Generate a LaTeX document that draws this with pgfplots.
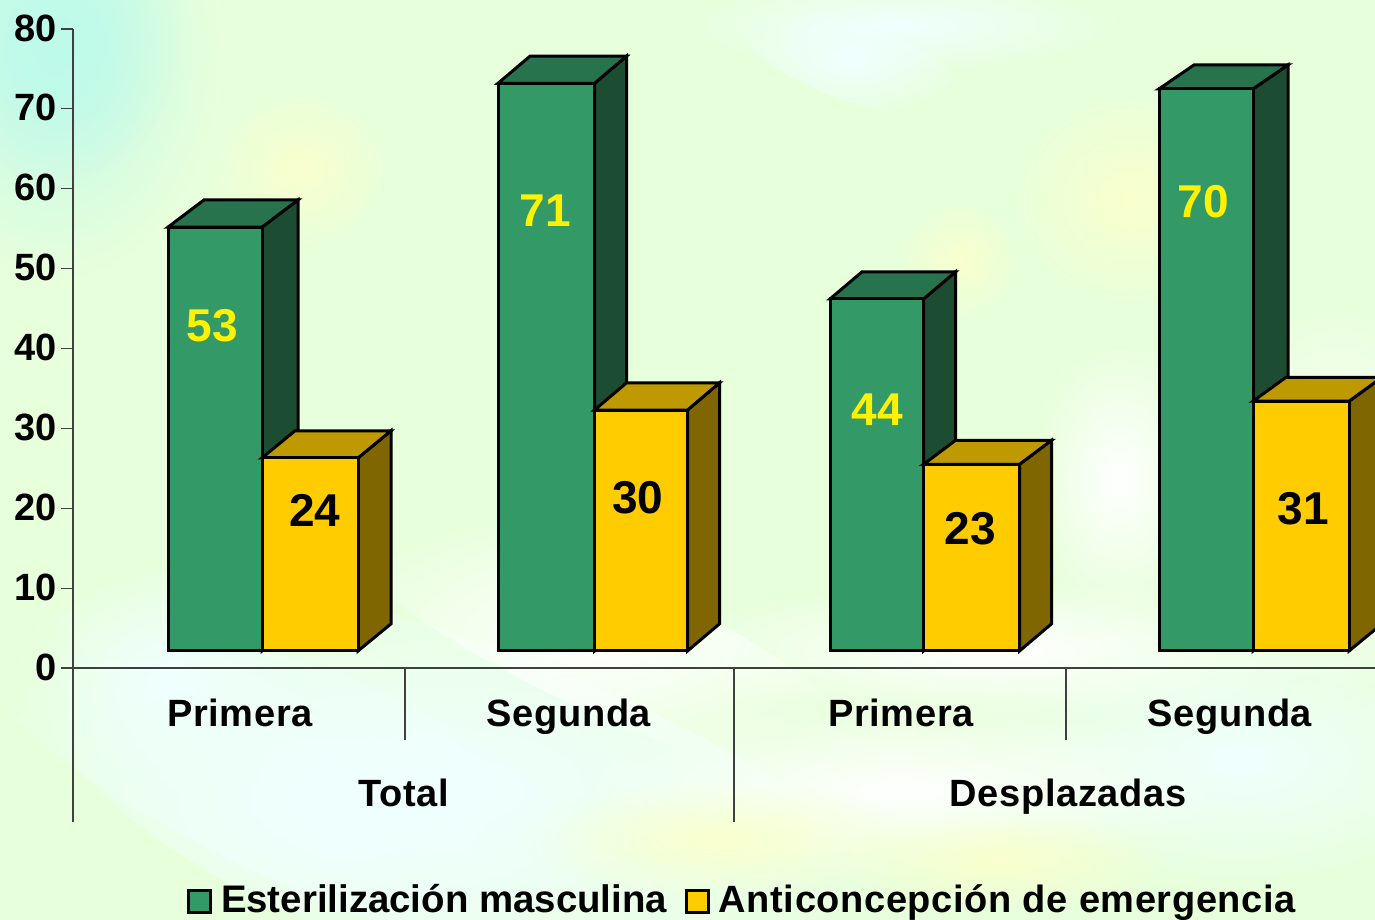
\documentclass[border=0pt]{standalone}
\usepackage{fontspec}
\setmainfont{Liberation Sans}
\newfontfamily\spaced[LetterSpace=1.6]{Liberation Sans}
\usepackage{pgfplots}
\pgfplotsset{compat=1.18}
\usetikzlibrary{fadings}
\definecolor{bgbase}{RGB}{232,255,220}
\definecolor{tintcyan}{RGB}{190,250,235}
\definecolor{paleblue}{RGB}{240,255,255}
\definecolor{paleyellow}{RGB}{250,255,205}
\definecolor{gfront}{RGB}{51,153,102}
\definecolor{gtop}{RGB}{38,115,77}
\definecolor{gside}{RGB}{28,77,51}
\definecolor{yfront}{RGB}{255,204,0}
\definecolor{ytop}{RGB}{191,153,0}
\definecolor{yside}{RGB}{128,102,0}
\definecolor{axisgray}{RGB}{64,64,64}
\tikzfading[name=blob, inner color=transparent!0, outer color=transparent!100]
\newcommand{\blob}[6]{% x y rx ry angle color
  \fill[#6, path fading=blob, fit fading=true] (#1,#2) ellipse[x radius=#3, y radius=#4, rotate=#5];}
% one 3D bar: x0 x1 top (px, px, axis units), depth dx (px), depth dy (axis units), colour prefix
\newcommand{\threedbar}[6]{%
  \pgfmathsetmacro{\xb}{#2+#4}%
  \pgfmathsetmacro{\xa}{#1+#4}%
  \pgfmathsetmacro{\ytopback}{#3+#5}%
  \addplot[forget plot, draw=black, line width=1.5pt, line join=miter, fill=#6side] coordinates {(#2,2.13) (\xb,5.53) (\xb,\ytopback) (#2,#3)} -- cycle;
  \addplot[forget plot, draw=black, line width=1.5pt, line join=miter, fill=#6top] coordinates {(#1,#3) (\xa,\ytopback) (\xb,\ytopback) (#2,#3)} -- cycle;
  \addplot[forget plot, draw=black, line width=1.5pt, line join=miter, fill=#6front] coordinates {(#1,2.13) (#2,2.13) (#2,#3) (#1,#3)} -- cycle;
}
\begin{document}
\fontsize{19}{22}\selectfont
\begin{tikzpicture}
\useasboundingbox (0,0) rectangle (687.5pt,460pt);
\fill[bgbase] (0,0) rectangle (687.5pt,460pt);
\begin{scope}[shift={(0,460pt)}, x=0.5pt, y=-0.5pt]
  \blob{50}{50}{170}{230}{0}{tintcyan}
  \blob{60}{40}{120}{140}{0}{tintcyan}
  \blob{900}{25}{220}{50}{0}{paleblue}
  \blob{850}{60}{120}{40}{-20}{paleblue}
  \blob{450}{790}{520}{150}{-20}{paleblue}
  \blob{330}{800}{320}{120}{-25}{paleblue}
  \blob{600}{640}{300}{70}{-25}{white}
  \blob{1240}{760}{260}{130}{0}{paleblue}
  \blob{1120}{480}{90}{140}{0}{white}
  \blob{1340}{500}{120}{200}{0}{white}
  \blob{1000}{650}{340}{70}{0}{white}
  \blob{170}{680}{150}{120}{0}{paleblue}
  \blob{900}{790}{320}{90}{0}{white}
  \blob{300}{170}{90}{80}{0}{paleyellow}
  \blob{960}{260}{60}{60}{0}{paleyellow}
  \blob{1130}{200}{120}{110}{0}{paleyellow}
  \blob{720}{840}{200}{60}{0}{paleyellow}
  \blob{1000}{860}{170}{50}{0}{paleyellow}
  \blob{30}{900}{110}{90}{0}{bgbase}
\end{scope}
\begin{axis}[
    at={(36.5pt,126pt)},
    anchor=origin,
    scale only axis,
    width=651pt,
    height=319.5pt,
    xmin=73, xmax=1375,
    ymin=0, ymax=80,
    clip=false,
    axis lines=left,
    axis line style={-, draw=axisgray, line width=0.6pt},
    ytick={0,10,...,80},
    xtick={240,569,901,1230},
    xticklabels={Primera,Segunda,Primera,Segunda},
    tick align=outside,
    major tick length=6pt,
    y tick style={draw=axisgray, line width=0.6pt},
    x tick style={draw=none},
    /pgf/number format/assume math mode=true,
    tick label style={font=\fontsize{19}{22}\selectfont\bfseries},
    yticklabel style={xshift=4.5pt, yshift=0.5pt},
    xticklabel style={yshift=-3pt, font=\fontsize{19}{22}\spaced\bfseries},
    legend style={at={(axis cs:743.5,-29.2)}, anchor=center, draw=none, fill=none,
      legend columns=2, font=\fontsize{19}{22}\spaced\bfseries,
      /tikz/every even column/.append style={column sep=7pt},
      /tikz/every odd column/.append style={column sep=2.5pt},
      inner sep=0pt, outer sep=0pt},
    legend cell align=left,
    legend image code/.code={\draw[#1, line width=1.4pt] (0pt,-5.5pt) rectangle (11pt,5.5pt);},
]
  \threedbar{168}{262}{55.2}{36}{3.4}{g}
  \threedbar{262}{358}{26.3}{33}{3.4}{y}
  \threedbar{498}{594.5}{73.2}{32}{3.4}{g}
  \threedbar{594.5}{687.5}{32.3}{32}{3.4}{y}
  \threedbar{830}{923.5}{46.2}{32}{3.4}{g}
  \threedbar{923.5}{1019.5}{25.5}{32}{3.0}{y}
  \threedbar{1159}{1253}{72.5}{35}{3.0}{g}
  \threedbar{1253}{1349}{33.4}{33}{3.0}{y}

  \addlegendimage{fill=gfront, draw=black}
  \addlegendentry{\fontsize{19.2}{22}\rmfamily\bfseries Esterilización masculina}
  \addlegendimage{fill=yfront, draw=black}
  \addlegendentry{Anticoncepción de emergencia}

  \tikzset{barlab/.style={font=\fontsize{23}{26}\selectfont\bfseries}}
  \node[barlab, yellow] at (axis cs:212.5,42.9) {53};
  \node[barlab, black] at (axis cs:315,19.7) {24};
  \node[barlab, yellow] at (axis cs:545.5,57.2) {71};
  \node[barlab, black] at (axis cs:638,21.3) {30};
  \node[barlab, yellow] at (axis cs:877,32.3) {44};
  \node[barlab, black] at (axis cs:970,17.4) {23};
  \node[barlab, yellow] at (axis cs:1203,58.4) {70};
  \node[barlab, black] at (axis cs:1303.5,20) {31};

  % multi-level category separators
  \draw[axisgray, line width=0.6pt] (axis cs:73,0) -- (axis cs:73,-19.3);
  \draw[axisgray, line width=0.6pt] (axis cs:734,0) -- (axis cs:734,-19.3);
  \draw[axisgray, line width=0.6pt] (axis cs:405,0) -- (axis cs:405,-9);
  \draw[axisgray, line width=0.6pt] (axis cs:1066,0) -- (axis cs:1066,-9);
  \node[anchor=base, font=\fontsize{19}{22}\spaced\bfseries] at (axis cs:404,-17.4) {Total};
  \node[anchor=base, font=\fontsize{19}{22}\spaced\bfseries] at (axis cs:1068,-17.4) {Desplazadas};
\end{axis}
\end{tikzpicture}
\end{document}
